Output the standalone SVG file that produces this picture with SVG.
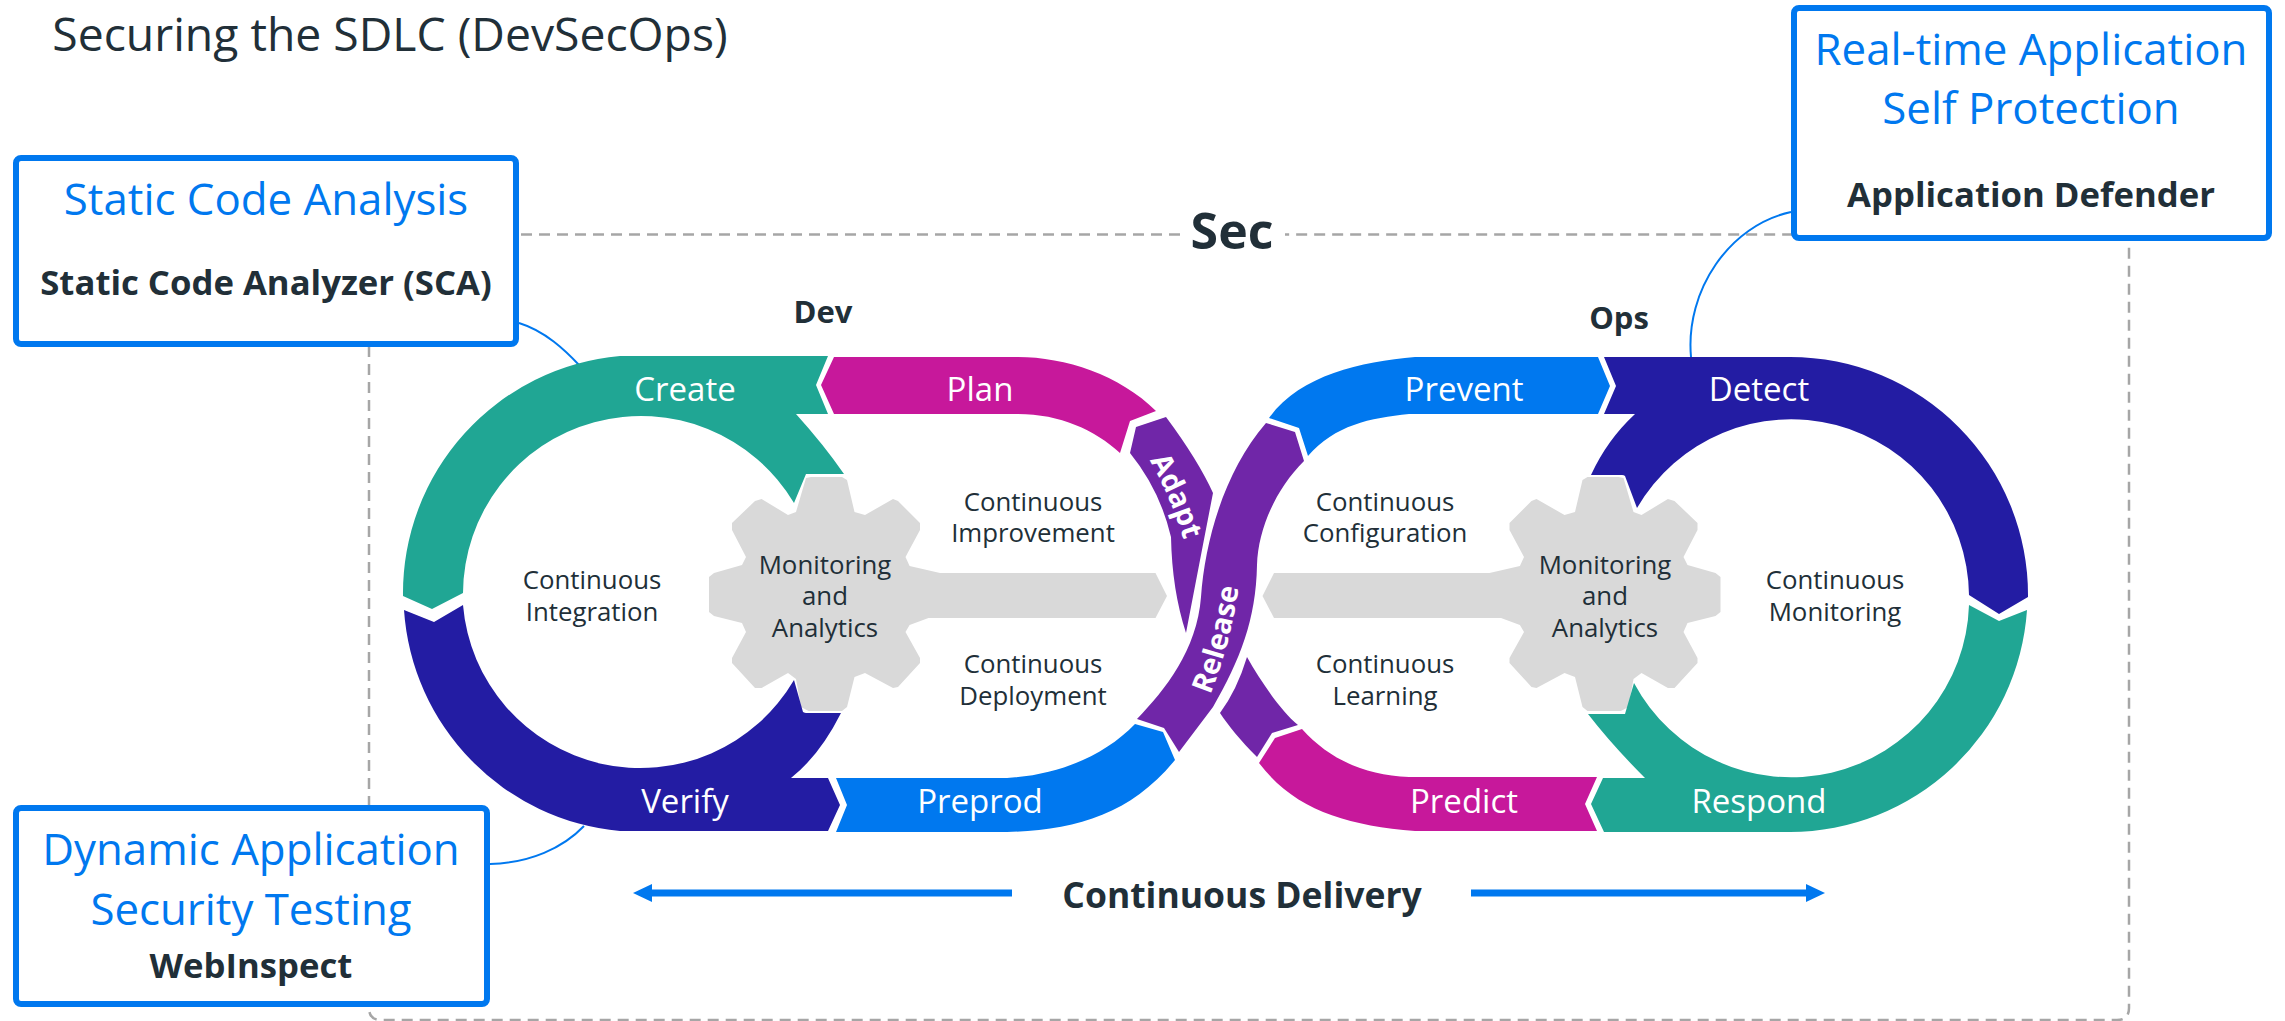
<svg xmlns="http://www.w3.org/2000/svg" xmlns:xlink="http://www.w3.org/1999/xlink" width="2285" height="1021" viewBox="0 0 2285 1021">
<style>
text{font-family:"Open Sans","Noto Sans","Liberation Sans",sans-serif;text-anchor:middle;fill:#212f38}
.box{fill:#fff;stroke:#0078ef;stroke-width:6}
.head{fill:#0078ef;font-size:43.8px}
.sub{font-weight:700;font-size:34.7px}
.seg{fill:#fff;font-size:33px}
.inner{font-size:25.8px}
.band{fill:#fff;font-size:29px;font-weight:700}
.lead{fill:none;stroke:#0078ef;stroke-width:2}
.teal{fill:#20a694}.mag{fill:#c7189b}.ind{fill:#231ca3}.blue{fill:#0078ef}.pur{fill:#7026a8}
.arrow{stroke:#0078ef;stroke-width:7;marker-end:url(#ah)}
</style>
<defs>
<marker id="ah" markerUnits="userSpaceOnUse" markerWidth="20" markerHeight="20" refX="0" refY="9" orient="auto"><path d="M0 0L19 9L0 18Z" fill="#0078ef"/></marker>
<path id="gear" fill="#d9d9d9" d="M806 478L811 477H842L847 480L854.5 512L865 515L893 499L898 501L920 523V530L905.5 557L909.6 566L940 573H1155.5L1167 596L1155.5 618H928.5L909.6 625L905.5 632L920 658V663L898 687L893 688L865 673L854.5 677L847 707L842 711H808.6L801 707L796 679L788 673L761.6 688H755L732 663V658L746 632L742 623L714 616L709 612V577L714 573L742 565L746 557L732 530V523L755 501L761.6 499L788 515L796 512Z"/>
<path id="adaptPath" d="M1147 456Q1172 498 1185 545"/>
<path id="releasePath" d="M1209 698Q1231 644 1239 584"/>
</defs>
<rect width="2285" height="1021" fill="#fff"/>
<text x="390" y="51" style="font-size:46.3px" id="title">Securing the SDLC (DevSecOps)</text>
<g id="connectors">
<path id="sec-frame" fill="none" stroke="#a6a6a6" stroke-width="2.5" stroke-dasharray="11 7" d="M1180 234.5H381Q369 234.5 369 246V1008Q369 1020 381 1020H2117Q2129 1020 2129 1008V234.5H1285"/>
<path class="lead" d="M519 323C545 331 565 350 580 366"/>
<path class="lead" d="M490 864C530 863 563 848 584 826"/>
<path class="lead" d="M1791 212C1730 225 1685 290 1691 357"/>
<line class="arrow" x1="1012" y1="893" x2="652" y2="893"/>
<line class="arrow" x1="1471" y1="893" x2="1806" y2="893"/>
</g>
<g id="sec"><text x="1232" y="249" style="font-weight:700;font-size:50px">Sec</text></g>
<g id="dev"><text x="823" y="323" style="font-weight:700;font-size:31px">Dev</text></g>
<g id="ops"><text x="1619" y="329" style="font-weight:700;font-size:31px">Ops</text></g>
<g id="delivery"><text x="1242" y="908" style="font-weight:700;font-size:35.5px">Continuous Delivery</text></g>
<g id="gear-dev"><use href="#gear"/><text class="inner"><tspan x="825" y="574">Monitoring</tspan><tspan x="825" y="605">and</tspan><tspan x="825" y="637">Analytics</tspan></text></g>
<g id="gear-ops"><use href="#gear" transform="translate(2429.5 0) scale(-1 1)"/><text class="inner"><tspan x="1605" y="574">Monitoring</tspan><tspan x="1605" y="605">and</tspan><tspan x="1605" y="637">Analytics</tspan></text></g>
<g id="create"><path class="teal" d="M620 356H828L816 385L828 414H796Q824 445 844 474H806L794 503A178 178 0 0 0 463 593L432 609L403 596A238 238 0 0 1 620 356Z"/><text class="seg" x="685" y="401">Create</text></g>
<g id="plan"><path class="mag" d="M834 357H1018C1065 357 1120 375 1156 411L1130 421L1120 453C1095 430 1060 414 1018 414H834L821 385Z"/><text class="seg" x="980" y="401">Plan</text></g>
<g id="adapt"><path class="pur" d="M1136 427L1166 417Q1198 460 1213 493Q1200 560 1186 633Q1172 590 1171 537Q1160 490 1130 453Z"/><text class="band"><textPath href="#adaptPath" startOffset="50%">Adapt</textPath></text></g>
<g id="release"><path class="pur" d="M1266 423L1295 432L1304 461C1275 490 1258 530 1257 565C1256 620 1240 660 1213 707L1179 752L1164 728L1137 719C1165 690 1197 650 1201 597C1205 540 1225 470 1266 423Z"/><path class="pur" d="M1247 657C1260 680 1280 710 1298 725L1272 733L1257 757C1240 740 1228 725 1220 713Q1237 690 1247 657Z"/><text class="band"><textPath href="#releasePath" startOffset="50%">Release</textPath></text></g>
<g id="verify"><path class="ind" d="M404 610L434 622L463 605A178 178 0 0 0 794 680L803 712Q805 713 806 713H841Q820 755 791 778H828L840 805L828 831H620A238 238 0 0 1 404 610Z"/><text class="seg" x="685" y="813">Verify</text></g>
<g id="preprod"><path class="blue" d="M836 778H1007C1060 775 1105 755 1135 724L1163 732L1175 760C1130 815 1075 830 1007 832H836L847 805Z"/><text class="seg" x="980" y="813">Preprod</text></g>
<g id="prevent"><path class="blue" d="M1269 418C1300 375 1360 362 1415 357H1598L1610 386L1598 414H1409C1370 418 1335 425 1308 456L1299 428Z"/><text class="seg" x="1464" y="401">Prevent</text></g>
<g id="detect"><path class="ind" d="M1604 357H1790A238 238 0 0 1 2028 597L1999 614L1969 595A178 178 0 0 0 1637 508L1625 476Q1624 475 1622 475H1591Q1607 440 1635 414H1604L1616 386Z"/><text class="seg" x="1759" y="401">Detect</text></g>
<g id="respond"><path class="teal" d="M1969 605L1999 621L2027 610A238 238 0 0 1 1790 832H1604L1591 804L1603 778H1645Q1612 745 1588 714H1625L1634 683A178 178 0 0 0 1969 605Z"/><text class="seg" x="1759" y="813">Respond</text></g>
<g id="predict"><path class="mag" d="M1259 763L1275 738L1302 729C1330 760 1365 775 1409 777H1597L1585 804L1597 831H1415C1345 825 1295 810 1259 763Z"/><text class="seg" x="1464" y="813">Predict</text></g>
<g id="ci"><text class="inner"><tspan x="592" y="589">Continuous</tspan><tspan x="592" y="621">Integration</tspan></text></g>
<g id="cimp"><text class="inner"><tspan x="1033" y="511">Continuous</tspan><tspan x="1033" y="542">Improvement</tspan></text></g>
<g id="cdep"><text class="inner"><tspan x="1033" y="673">Continuous</tspan><tspan x="1033" y="705">Deployment</tspan></text></g>
<g id="cconf"><text class="inner"><tspan x="1385" y="511">Continuous</tspan><tspan x="1385" y="542">Configuration</tspan></text></g>
<g id="clearn"><text class="inner"><tspan x="1385" y="673">Continuous</tspan><tspan x="1385" y="705">Learning</tspan></text></g>
<g id="cmon"><text class="inner"><tspan x="1835" y="589">Continuous</tspan><tspan x="1835" y="621">Monitoring</tspan></text></g>
<g id="box-sca"><rect class="box" x="16" y="158" width="500" height="186" rx="5"/><text class="head" x="266" y="215">Static Code Analysis</text><text class="sub" x="266" y="295">Static Code Analyzer (SCA)</text></g>
<g id="box-dast"><rect class="box" x="16" y="808" width="471" height="196" rx="5"/><text class="head"><tspan x="251" y="865">Dynamic Application</tspan><tspan x="251" y="925">Security Testing</tspan></text><text class="sub" x="251" y="978">WebInspect</text></g>
<g id="box-rasp"><rect class="box" x="1794" y="8" width="475" height="230" rx="5"/><text class="head"><tspan x="2031" y="65">Real-time Application</tspan><tspan x="2031" y="124">Self Protection</tspan></text><text class="sub" x="2031" y="207">Application Defender</text></g>
</svg>
